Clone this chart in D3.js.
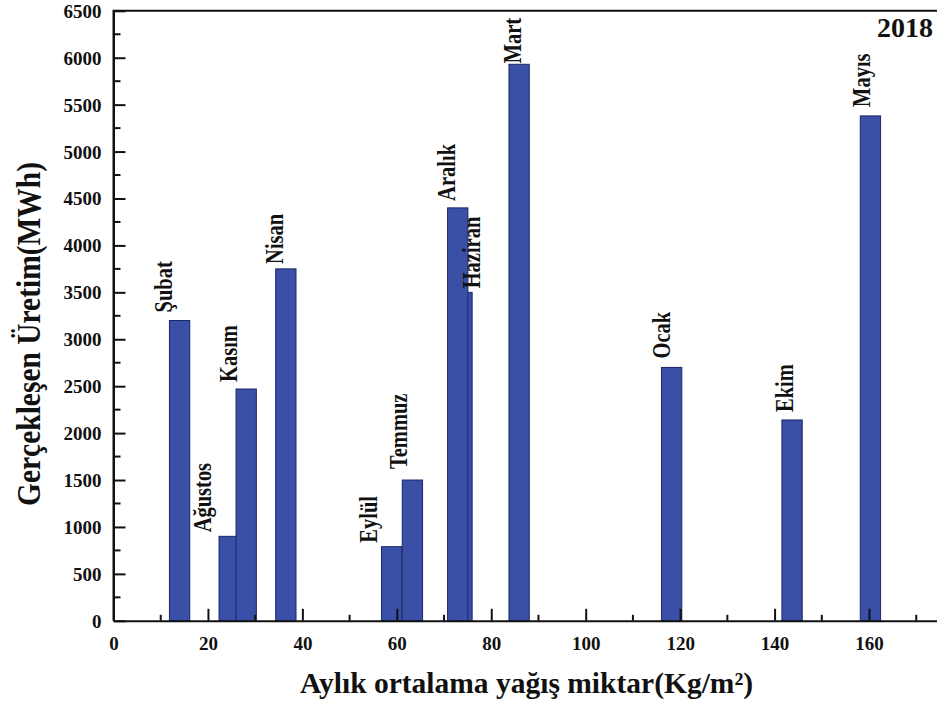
<!DOCTYPE html>
<html>
<head>
<meta charset="utf-8">
<script src="https://cdn.jsdelivr.net/npm/d3@7"></script>
<style>
  html, body { margin: 0; padding: 0; background: #fff; }
  svg { display: block; }
  text { font-family: "Liberation Serif", "Times New Roman", serif; font-weight: bold; fill: #111; }
</style>
</head>
<body>
<svg id="chart" width="937" height="708"></svg>
<script>
// ---- data ----
const months   = ["Şubat", "Ağustos", "Kasım", "Nisan", "Eylül", "Temmuz", "Haziran", "Aralık", "Mart", "Ocak", "Ekim", "Mayıs"];
const rainfall = [14.0, 24.5, 28.1, 36.5, 58.9, 63.3, 73.8, 72.9, 85.9, 118.2, 143.7, 160.3];
const production = [3200, 900, 2470, 3750, 790, 1500, 3500, 4400, 5930, 2700, 2140, 5380];
const xTicks = [0, 20, 40, 60, 80, 100, 120, 140, 160];
const yTicks = [0, 500, 1000, 1500, 2000, 2500, 3000, 3500, 4000, 4500, 5000, 5500, 6000, 6500];
const yearLabel = "2018";
const xTitle = "Aylık ortalama yağış miktar(Kg/m²)";
const yTitle = "Gerçekleşen Üretim(MWh)";

// ---- layout (label nudges in px: dx = baseline offset from bar centre, gap above bar) ----
const labelNudge = {
  "Şubat": [-8, 8], "Ağustos": [-18, 4], "Kasım": [-9, 7], "Nisan": [-2.5, 5],
  "Eylül": [-15, 4], "Temmuz": [-5, 11], "Haziran": [18, 4], "Aralık": [-2.7, 7],
  "Mart": [1.5, 1], "Ocak": [-1.7, 9], "Ekim": [1.3, 8], "Mayıs": [0, 9]
};

(function () {
const svg = d3.select("#chart");
const mLeft = 113.5, mTop = 10.8, mBottom = 620.8;
const x = d3.scaleLinear().domain([0, 175]).range([mLeft, mLeft + 175 * 4.722]);
const y = d3.scaleLinear().domain([0, 6500]).range([mBottom, mTop]);
const barW = x(4.3) - x(0);

const data = months.map((m, i) => ({ m, r: rainfall[i], v: production[i] }));

// bars (in listed order so later bars overlap earlier ones)
svg.append("g").selectAll("rect").data(data).join("rect")
  .attr("x", d => x(d.r) - barW / 2)
  .attr("y", d => y(d.v))
  .attr("width", barW)
  .attr("height", d => y(0) - y(d.v))
  .attr("fill", "#3a4fa6")
  .attr("stroke", "#1b2668")
  .attr("stroke-width", 1);

// frame
const xr = x.range()[1];
svg.append("path")
  .attr("d", `M${mLeft},${mBottom}V${mTop}H${xr + 5}`)
  .attr("fill", "none").attr("stroke", "#111").attr("stroke-width", 2);

const fmt = d3.format("d");

// x axis
const xAxis = d3.axisBottom(x).tickValues(xTicks).tickFormat(fmt).tickSizeInner(-12).tickSizeOuter(0).tickPadding(0);
const gx = svg.append("g").attr("transform", `translate(0,${mBottom})`).call(xAxis);
gx.attr("font-family", null).attr("font-size", null);
gx.select(".domain").attr("stroke", "#111").attr("stroke-width", 2);
gx.selectAll(".tick line").attr("stroke", "#111").attr("stroke-width", 2);
gx.selectAll(".tick text").attr("y", 29).attr("dy", 0)
  .style("font-size", "19px").attr("fill", "#111");
// x minor ticks
svg.append("g").selectAll("line").data(d3.range(10, 175, 20)).join("line")
  .attr("x1", d => x(d)).attr("x2", d => x(d))
  .attr("y1", mBottom).attr("y2", mBottom - 6)
  .attr("stroke", "#111").attr("stroke-width", 2);

// y axis
const yAxis = d3.axisLeft(y).tickValues(yTicks).tickFormat(fmt).tickSizeInner(-12).tickSizeOuter(0).tickPadding(0);
const gy = svg.append("g").attr("transform", `translate(${mLeft},0)`).call(yAxis);
gy.attr("font-family", null).attr("font-size", null);
gy.select(".domain").attr("stroke", "#111").attr("stroke-width", 2);
gy.selectAll(".tick line").attr("stroke", "#111").attr("stroke-width", 2);
gy.selectAll(".tick text").attr("x", -12).attr("dy", "0.34em")
  .style("font-size", "19px").attr("fill", "#111");
// y minor ticks
svg.append("g").selectAll("line").data(d3.range(250, 6500, 500)).join("line")
  .attr("x1", mLeft).attr("x2", mLeft + 7)
  .attr("y1", d => y(d)).attr("y2", d => y(d))
  .attr("stroke", "#111").attr("stroke-width", 2);

// bar labels
svg.append("g").selectAll("text").data(data).join("text")
  .attr("transform", d => {
    const n = labelNudge[d.m] || [0, 7];
    return `translate(${x(d.r) + n[0]},${y(d.v) - n[1]}) rotate(-90) scale(1,1.2)`;
  })
  .attr("text-anchor", "start")
  .style("font-size", "20.5px")
  .text(d => d.m);

// year
svg.append("text").attr("x", 933).attr("y", 37).attr("text-anchor", "end")
  .style("font-size", "28px").text(yearLabel);

// axis titles
svg.append("text").attr("x", 526.5).attr("y", 693).attr("text-anchor", "middle")
  .style("font-size", "29.5px").text(xTitle);
svg.append("text").attr("transform", "translate(40,334) rotate(-90) scale(1,1.15)")
  .attr("text-anchor", "middle")
  .style("font-size", "29.5px").text(yTitle);
})();
</script>
</body>
</html>
